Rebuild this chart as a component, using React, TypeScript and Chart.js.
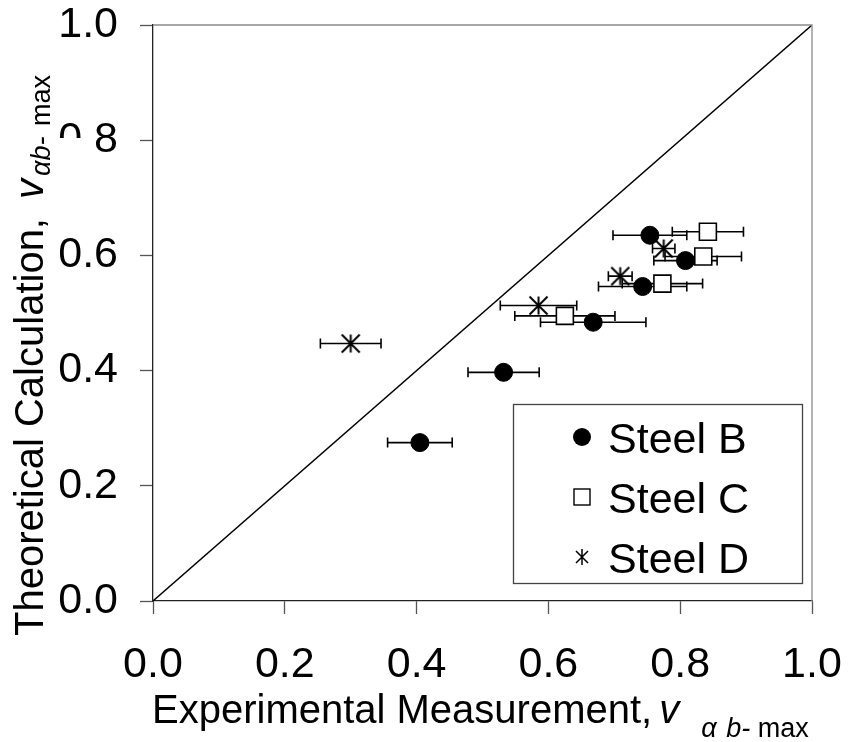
import React, { useEffect, useRef } from 'react';
import { Chart, registerables } from 'chart.js';

Chart.register(...registerables);

const FONT = '"Liberation Sans", Arial, Helvetica, sans-serif';

// ---- data ----
const seriesLabels = ['Steel B', 'Steel C', 'Steel D'];

const steelBX = [0.405, 0.532, 0.668, 0.743, 0.754, 0.808];
const steelBY = [0.275, 0.397, 0.484, 0.546, 0.635, 0.591];
const steelBErr = [0.049, 0.054, 0.080, 0.067, 0.056, 0.048];

const steelCX = [0.625, 0.773, 0.835, 0.842];
const steelCY = [0.495, 0.551, 0.598, 0.641];
const steelCErr = [0.076, 0.061, 0.058, 0.054];

const steelDX = [0.300, 0.585, 0.709, 0.775];
const steelDY = [0.447, 0.513, 0.564, 0.612];
const steelDErr = [0.046, 0.058, 0.018, 0.017];

const diagonalX = [0, 1];
const diagonalY = [0, 1];

const tickValues = [0, 0.2, 0.4, 0.6, 0.8, 1.0];

const xTitleMain = 'Experimental Measurement, ';
const xTitleVar = 'v';
const xTitleSub = ['α', ' b-', ' max'];
const yTitleMain = 'Theoretical Calculation, ';
const yTitleVar = 'v';
const yTitleSub = ['αb', '-', ' max'];

function makeAsterisk(size: number, lw: number): HTMLCanvasElement {
  const c = document.createElement('canvas');
  c.width = size;
  c.height = size;
  const ctx = c.getContext('2d')!;
  const m = size / 2;
  const r = size / 2 - 1.5;
  ctx.strokeStyle = '#000';
  ctx.lineWidth = lw;
  ctx.beginPath();
  ctx.moveTo(m, m - r);
  ctx.lineTo(m, m + r);
  ctx.moveTo(m - r, m - r);
  ctx.lineTo(m + r, m + r);
  ctx.moveTo(m + r, m - r);
  ctx.lineTo(m - r, m + r);
  ctx.stroke();
  return c;
}

export default function App() {
  const ref = useRef<HTMLCanvasElement>(null);

  useEffect(() => {
    const canvas = ref.current;
    if (!canvas) return;
    const star = makeAsterisk(21, 2);
    const toPts = (xs: number[], ys: number[]) => xs.map((x, i) => ({ x, y: ys[i] }));

    const errorBars = {
      id: 'errorBars',
      beforeDatasetsDraw(chart: any) {
        const { ctx } = chart;
        const sx = chart.scales.x;
        const sy = chart.scales.y;
        ctx.save();
        ctx.strokeStyle = '#000';
        ctx.lineWidth = 1.6;
        chart.data.datasets.forEach((ds: any) => {
          if (!ds.errX) return;
          ds.data.forEach((p: any, i: number) => {
            const e = ds.errX[i];
            const x1 = sx.getPixelForValue(p.x - e);
            const x2 = sx.getPixelForValue(p.x + e);
            const py = sy.getPixelForValue(p.y);
            ctx.beginPath();
            ctx.moveTo(x1, py);
            ctx.lineTo(x2, py);
            ctx.moveTo(x1, py - 5);
            ctx.lineTo(x1, py + 5);
            ctx.moveTo(x2, py - 5);
            ctx.lineTo(x2, py + 5);
            ctx.stroke();
          });
        });
        ctx.restore();
      },
    };

    const decorations = {
      id: 'decorations',
      afterDraw(chart: any) {
        const { ctx, chartArea: a } = chart;
        ctx.save();
        // top and right frame lines
        ctx.strokeStyle = '#8a8a8a';
        ctx.lineWidth = 1.3;
        ctx.beginPath();
        ctx.moveTo(a.left, a.top);
        ctx.lineTo(a.right, a.top);
        ctx.lineTo(a.right, a.bottom);
        ctx.stroke();

        // legend
        const lx = a.right - 299;
        const ly = a.top + 379;
        const lw = 289;
        const lh = 179;
        ctx.fillStyle = '#fff';
        ctx.fillRect(lx, ly, lw, lh);
        ctx.strokeStyle = '#444';
        ctx.lineWidth = 1.3;
        ctx.strokeRect(lx + 0.5, ly + 0.5, lw, lh);
        const rows = [ly + 33, ly + 93, ly + 153];
        const mx = lx + 69;
        ctx.font = `43px ${FONT}`;
        ctx.textBaseline = 'alphabetic';
        ctx.textAlign = 'left';
        seriesLabels.forEach((lab, i) => {
          const ry = rows[i];
          ctx.fillStyle = '#000';
          ctx.strokeStyle = '#000';
          if (i === 0) {
            ctx.beginPath();
            ctx.arc(mx, ry, 9, 0, Math.PI * 2);
            ctx.fill();
          } else if (i === 1) {
            ctx.lineWidth = 1.4;
            ctx.strokeRect(mx - 8, ry - 8, 16, 16);
          } else {
            ctx.lineWidth = 1.5;
            ctx.beginPath();
            ctx.moveTo(mx, ry - 8);
            ctx.lineTo(mx, ry + 8);
            ctx.moveTo(mx - 6, ry - 6);
            ctx.lineTo(mx + 6, ry + 6);
            ctx.moveTo(mx + 6, ry - 6);
            ctx.lineTo(mx - 6, ry + 6);
            ctx.stroke();
          }
          ctx.fillStyle = '#000';
          ctx.fillText(lab, lx + 95, ry + 15.5);
        });

        // x axis title
        ctx.fillStyle = '#000';
        let x0 = a.left - 1;
        const xb = 723;
        ctx.font = `40px ${FONT}`;
        ctx.fillText(xTitleMain, x0, xb);
        x0 += ctx.measureText(xTitleMain).width - 4;
        ctx.font = `italic 40px ${FONT}`;
        ctx.fillText(xTitleVar, x0, xb);
        x0 += ctx.measureText(xTitleVar).width + 22;
        xTitleSub.forEach((s, i) => {
          ctx.font = i === 2 ? `27px ${FONT}` : `italic 27px ${FONT}`;
          ctx.fillText(s, x0, xb + 14);
          x0 += ctx.measureText(s).width + (i === 0 ? 2 : 0);
        });

        // y axis title (rotated), with the white text box that hides part of "0.8"
        ctx.fillStyle = '#fff';
        ctx.fillRect(48, 138, 48, 30);
        ctx.translate(43, 636);
        ctx.rotate(-Math.PI / 2);
        ctx.fillStyle = '#000';
        let y0 = 0;
        ctx.font = `40px ${FONT}`;
        ctx.fillText(yTitleMain, y0, 0);
        y0 += ctx.measureText(yTitleMain).width + 8;
        ctx.font = `italic 40px ${FONT}`;
        ctx.fillText(yTitleVar, y0, 0);
        y0 += ctx.measureText(yTitleVar).width + 3;
        yTitleSub.forEach((s, i) => {
          ctx.font = i === 2 ? `27px ${FONT}` : `italic 27px ${FONT}`;
          ctx.fillText(s, y0, 7);
          y0 += ctx.measureText(s).width + (i === 1 ? 3 : 0);
        });
        ctx.restore();
      },
    };

    const tickFont = { family: FONT, size: 43, lineHeight: 1.1 };

    const chart = new Chart(canvas, {
      type: 'scatter',
      data: {
        datasets: [
          {
            label: seriesLabels[2],
            data: toPts(steelDX, steelDY),
            errX: steelDErr,
            pointStyle: star,
            pointRadius: 10,
            order: 0,
          } as any,
          {
            label: seriesLabels[1],
            data: toPts(steelCX, steelCY),
            errX: steelCErr,
            pointStyle: 'rect',
            pointRadius: 12,
            backgroundColor: '#fff',
            borderColor: '#000',
            borderWidth: 1.6,
            order: 1,
          } as any,
          {
            label: seriesLabels[0],
            data: toPts(steelBX, steelBY),
            errX: steelBErr,
            pointStyle: 'circle',
            pointRadius: 9,
            backgroundColor: '#000',
            borderColor: '#000',
            borderWidth: 1,
            order: 2,
          } as any,
          {
            label: 'y = x',
            type: 'line',
            data: toPts(diagonalX, diagonalY),
            borderColor: '#000',
            borderWidth: 1.4,
            pointRadius: 0,
            showLine: true,
            order: 10,
          } as any,
        ],
      },
      options: {
        animation: false,
        responsive: false,
        events: [],
        layout: { padding: { top: 25, right: 36, left: 0, bottom: 0 } },
        plugins: { legend: { display: false }, tooltip: { enabled: false } },
        scales: {
          x: {
            type: 'linear',
            min: 0,
            max: 1,
            afterFit(s: any) {
              s.height = 141;
              s.paddingLeft = 0;
              s.paddingRight = 0;
            },
            afterBuildTicks(s: any) {
              s.ticks = tickValues.map((v) => ({ value: v }));
            },
            ticks: {
              callback: (v: any) => Number(v).toFixed(1),
              font: tickFont,
              color: '#000',
              padding: 27,
              maxRotation: 0,
            },
            grid: { drawOnChartArea: false, tickLength: 13, color: '#555', tickWidth: 1.3 },
            border: { color: '#222', width: 1.3 },
          },
          y: {
            type: 'linear',
            min: 0,
            max: 1,
            afterFit(s: any) {
              s.width = 153;
              s.paddingTop = 0;
              s.paddingBottom = 0;
            },
            afterBuildTicks(s: any) {
              s.ticks = tickValues.map((v) => ({ value: v }));
            },
            ticks: {
              callback: (v: any) => Number(v).toFixed(1),
              font: tickFont,
              color: '#000',
              padding: 22,
            },
            grid: { drawOnChartArea: false, tickLength: 13, color: '#555', tickWidth: 1.3 },
            border: { color: '#222', width: 1.3 },
          },
        },
      } as any,
      plugins: [errorBars, decorations],
    });

    return () => chart.destroy();
  }, []);

  return (
    <div style={{ position: 'fixed', left: 0, top: 0, width: 848, height: 742, background: '#fff' }}>
      <canvas ref={ref} width={848} height={742} style={{ display: 'block' }} />
    </div>
  );
}
